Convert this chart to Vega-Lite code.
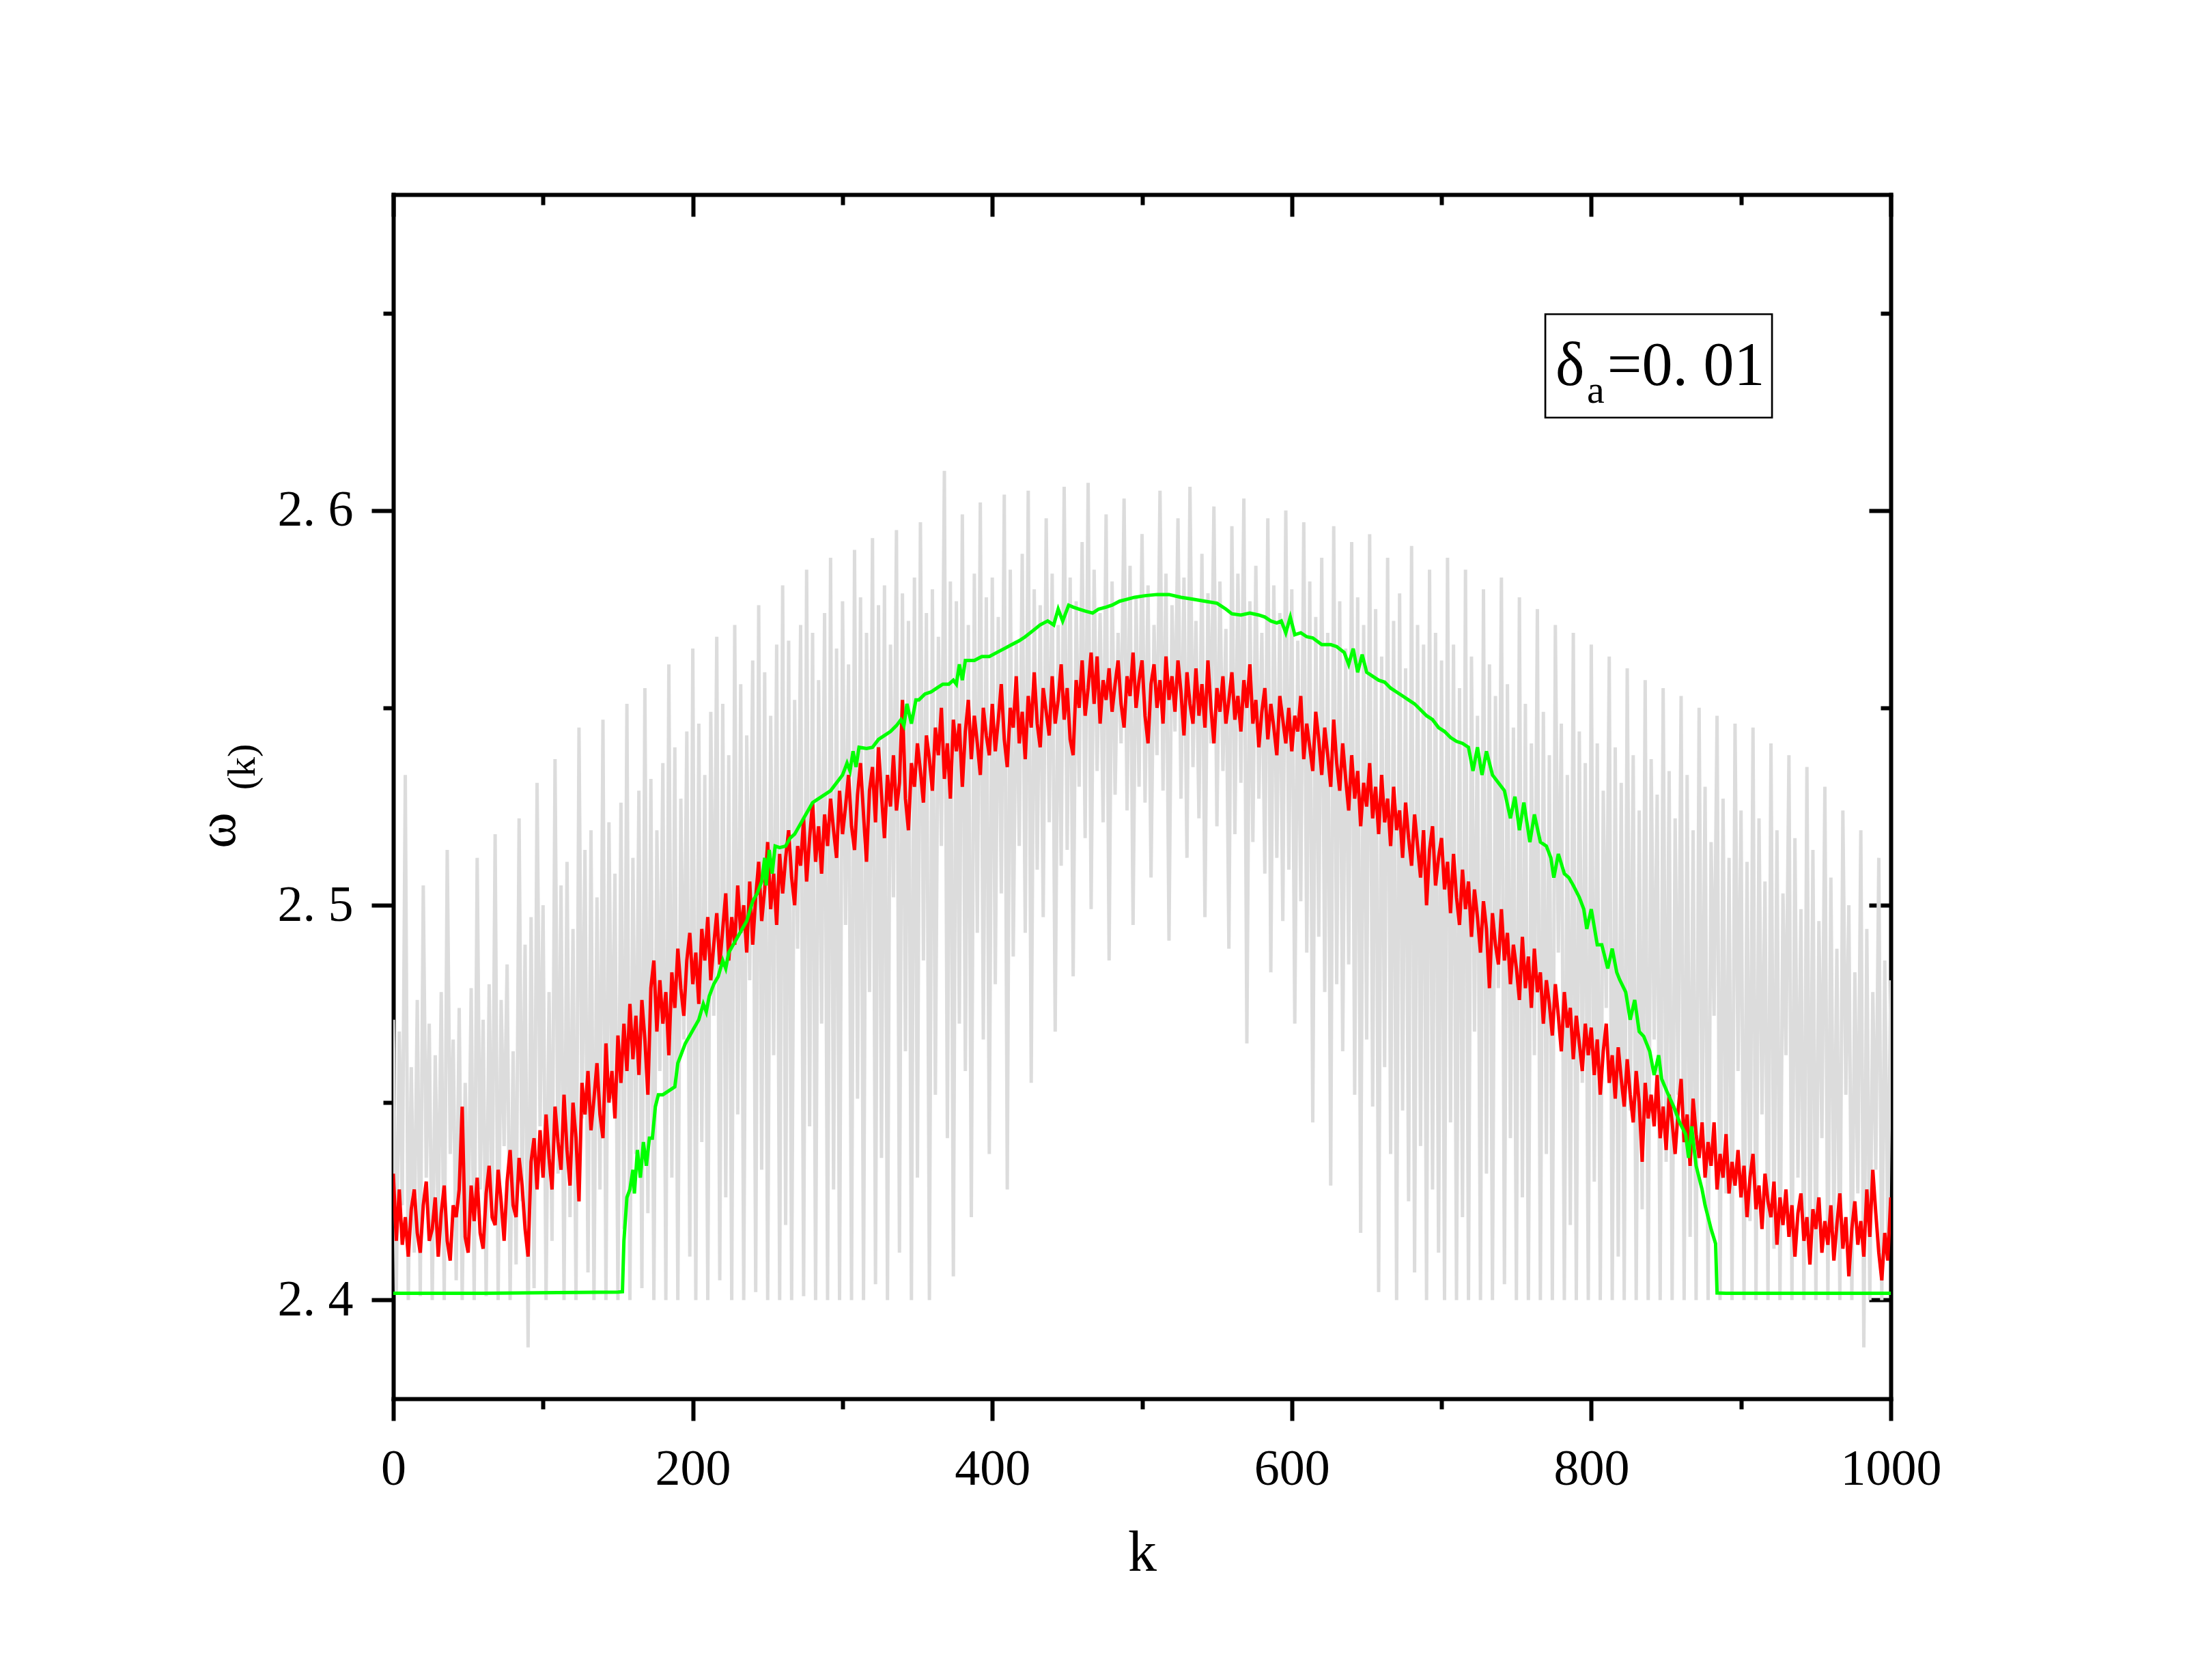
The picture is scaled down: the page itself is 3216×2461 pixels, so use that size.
{
"$schema":"https://vega.github.io/schema/vega-lite/v6.json",
"width":2193,"height":1764,
"autosize":{"type":"none"},
"padding":{"left":576,"top":285,"right":447,"bottom":412},
"background":"white",
"config":{"view":{"stroke":null},"axis":{"grid":false,"domainColor":"black","tickColor":"black","labelColor":"black","titleColor":"black","domainWidth":6,"tickWidth":6,"domainCap":"square","labelFont":"Liberation Serif","titleFont":"Liberation Serif","titleFontWeight":"normal","labelFlush":false,"labelOverlap":false,"labelBound":false,"zindex":1}},
"datasets":{
"main":[
{"k":0,"w":2.471,"r":2.432},{"k":2,"w":2.402,"r":2.415},{"k":4,"w":2.468,"r":2.428},{"k":6,"w":2.424,"r":2.414},{"k":8,"w":2.533,"r":2.421},{"k":10,"w":2.400,"r":2.411},{"k":12,"w":2.459,"r":2.423},{"k":14,"w":2.412,"r":2.428},{"k":16,"w":2.476,"r":2.417},{"k":18,"w":2.401,"r":2.412},
{"k":20,"w":2.505,"r":2.424},{"k":22,"w":2.431,"r":2.430},{"k":24,"w":2.470,"r":2.415},{"k":26,"w":2.400,"r":2.418},{"k":28,"w":2.462,"r":2.426},{"k":30,"w":2.418,"r":2.411},{"k":32,"w":2.478,"r":2.422},{"k":34,"w":2.400,"r":2.429},{"k":36,"w":2.514,"r":2.415},{"k":38,"w":2.437,"r":2.410},
{"k":40,"w":2.466,"r":2.424},{"k":42,"w":2.405,"r":2.421},{"k":44,"w":2.474,"r":2.428},{"k":46,"w":2.400,"r":2.449},{"k":48,"w":2.455,"r":2.416},{"k":50,"w":2.416,"r":2.412},{"k":52,"w":2.479,"r":2.429},{"k":54,"w":2.400,"r":2.420},{"k":56,"w":2.512,"r":2.431},{"k":58,"w":2.428,"r":2.417},
{"k":60,"w":2.471,"r":2.413},{"k":62,"w":2.401,"r":2.427},{"k":64,"w":2.480,"r":2.434},{"k":66,"w":2.420,"r":2.421},{"k":68,"w":2.518,"r":2.419},{"k":70,"w":2.400,"r":2.433},{"k":72,"w":2.476,"r":2.425},{"k":74,"w":2.439,"r":2.415},{"k":76,"w":2.485,"r":2.430},{"k":78,"w":2.400,"r":2.438},
{"k":80,"w":2.463,"r":2.424},{"k":82,"w":2.409,"r":2.421},{"k":84,"w":2.522,"r":2.436},{"k":86,"w":2.425,"r":2.429},{"k":88,"w":2.490,"r":2.418},{"k":90,"w":2.388,"r":2.411},{"k":92,"w":2.497,"r":2.435},{"k":94,"w":2.403,"r":2.441},{"k":96,"w":2.531,"r":2.428},{"k":98,"w":2.444,"r":2.443},
{"k":100,"w":2.500,"r":2.431},{"k":102,"w":2.400,"r":2.447},{"k":104,"w":2.478,"r":2.436},{"k":106,"w":2.415,"r":2.428},{"k":108,"w":2.537,"r":2.449},{"k":110,"w":2.432,"r":2.440},{"k":112,"w":2.505,"r":2.433},{"k":114,"w":2.400,"r":2.452},{"k":116,"w":2.511,"r":2.438},{"k":118,"w":2.421,"r":2.429},
{"k":120,"w":2.494,"r":2.450},{"k":122,"w":2.400,"r":2.441},{"k":124,"w":2.545,"r":2.425},{"k":126,"w":2.446,"r":2.455},{"k":128,"w":2.514,"r":2.447},{"k":130,"w":2.407,"r":2.458},{"k":132,"w":2.519,"r":2.443},{"k":134,"w":2.400,"r":2.451},{"k":136,"w":2.502,"r":2.460},{"k":138,"w":2.428,"r":2.447},
{"k":140,"w":2.547,"r":2.441},{"k":142,"w":2.400,"r":2.465},{"k":144,"w":2.521,"r":2.450},{"k":146,"w":2.451,"r":2.458},{"k":148,"w":2.508,"r":2.446},{"k":150,"w":2.400,"r":2.467},{"k":152,"w":2.526,"r":2.455},{"k":154,"w":2.418,"r":2.470},{"k":156,"w":2.551,"r":2.458},{"k":158,"w":2.400,"r":2.475},
{"k":160,"w":2.512,"r":2.461},{"k":162,"w":2.437,"r":2.472},{"k":164,"w":2.529,"r":2.457},{"k":166,"w":2.403,"r":2.476},{"k":168,"w":2.555,"r":2.466},{"k":170,"w":2.422,"r":2.452},{"k":172,"w":2.532,"r":2.479},{"k":174,"w":2.400,"r":2.486},{"k":176,"w":2.519,"r":2.468},{"k":178,"w":2.458,"r":2.481},
{"k":180,"w":2.536,"r":2.470},{"k":182,"w":2.400,"r":2.478},{"k":184,"w":2.561,"r":2.462},{"k":186,"w":2.431,"r":2.483},{"k":188,"w":2.540,"r":2.474},{"k":190,"w":2.400,"r":2.489},{"k":192,"w":2.527,"r":2.479},{"k":194,"w":2.466,"r":2.472},{"k":196,"w":2.544,"r":2.486},{"k":198,"w":2.411,"r":2.493},
{"k":200,"w":2.565,"r":2.480},{"k":202,"w":2.400,"r":2.488},{"k":204,"w":2.546,"r":2.475},{"k":206,"w":2.440,"r":2.494},{"k":208,"w":2.533,"r":2.486},{"k":210,"w":2.400,"r":2.497},{"k":212,"w":2.549,"r":2.481},{"k":214,"w":2.472,"r":2.490},{"k":216,"w":2.568,"r":2.498},{"k":218,"w":2.405,"r":2.485},
{"k":220,"w":2.551,"r":2.494},{"k":222,"w":2.426,"r":2.503},{"k":224,"w":2.538,"r":2.486},{"k":226,"w":2.400,"r":2.497},{"k":228,"w":2.571,"r":2.490},{"k":230,"w":2.447,"r":2.505},{"k":232,"w":2.556,"r":2.493},{"k":234,"w":2.400,"r":2.500},{"k":236,"w":2.543,"r":2.488},{"k":238,"w":2.481,"r":2.506},
{"k":240,"w":2.562,"r":2.490},{"k":242,"w":2.402,"r":2.502},{"k":244,"w":2.576,"r":2.511},{"k":246,"w":2.433,"r":2.496},{"k":248,"w":2.559,"r":2.504},{"k":250,"w":2.400,"r":2.516},{"k":252,"w":2.548,"r":2.499},{"k":254,"w":2.462,"r":2.508},{"k":256,"w":2.566,"r":2.495},{"k":258,"w":2.400,"r":2.513},
{"k":260,"w":2.581,"r":2.503},{"k":262,"w":2.419,"r":2.512},{"k":264,"w":2.567,"r":2.519},{"k":266,"w":2.400,"r":2.507},{"k":268,"w":2.552,"r":2.500},{"k":270,"w":2.489,"r":2.515},{"k":272,"w":2.571,"r":2.510},{"k":274,"w":2.401,"r":2.522},{"k":276,"w":2.585,"r":2.506},{"k":278,"w":2.444,"r":2.517},
{"k":280,"w":2.569,"r":2.526},{"k":282,"w":2.400,"r":2.511},{"k":284,"w":2.557,"r":2.520},{"k":286,"w":2.470,"r":2.508},{"k":288,"w":2.574,"r":2.523},{"k":290,"w":2.400,"r":2.515},{"k":292,"w":2.588,"r":2.527},{"k":294,"w":2.428,"r":2.519},{"k":296,"w":2.565,"r":2.512},{"k":298,"w":2.400,"r":2.529},
{"k":300,"w":2.577,"r":2.518},{"k":302,"w":2.495,"r":2.525},{"k":304,"w":2.561,"r":2.533},{"k":306,"w":2.400,"r":2.520},{"k":308,"w":2.590,"r":2.514},{"k":310,"w":2.451,"r":2.528},{"k":312,"w":2.578,"r":2.536},{"k":314,"w":2.400,"r":2.523},{"k":316,"w":2.569,"r":2.511},{"k":318,"w":2.478,"r":2.529},
{"k":320,"w":2.593,"r":2.535},{"k":322,"w":2.404,"r":2.521},{"k":324,"w":2.576,"r":2.540},{"k":326,"w":2.436,"r":2.528},{"k":328,"w":2.581,"r":2.517},{"k":330,"w":2.400,"r":2.533},{"k":332,"w":2.566,"r":2.525},{"k":334,"w":2.502,"r":2.538},{"k":336,"w":2.595,"r":2.524},{"k":338,"w":2.412,"r":2.531},
{"k":340,"w":2.579,"r":2.552},{"k":342,"w":2.463,"r":2.527},{"k":344,"w":2.572,"r":2.519},{"k":346,"w":2.400,"r":2.536},{"k":348,"w":2.583,"r":2.530},{"k":350,"w":2.431,"r":2.541},{"k":352,"w":2.597,"r":2.534},{"k":354,"w":2.486,"r":2.526},{"k":356,"w":2.574,"r":2.543},{"k":358,"w":2.400,"r":2.537},
{"k":360,"w":2.580,"r":2.529},{"k":362,"w":2.452,"r":2.545},{"k":364,"w":2.568,"r":2.538},{"k":366,"w":2.515,"r":2.550},{"k":368,"w":2.610,"r":2.532},{"k":370,"w":2.441,"r":2.541},{"k":372,"w":2.582,"r":2.527},{"k":374,"w":2.406,"r":2.547},{"k":376,"w":2.577,"r":2.539},{"k":378,"w":2.470,"r":2.546},
{"k":380,"w":2.599,"r":2.530},{"k":382,"w":2.458,"r":2.544},{"k":384,"w":2.571,"r":2.552},{"k":386,"w":2.421,"r":2.537},{"k":388,"w":2.584,"r":2.548},{"k":390,"w":2.493,"r":2.541},{"k":392,"w":2.602,"r":2.533},{"k":394,"w":2.466,"r":2.550},{"k":396,"w":2.578,"r":2.543},{"k":398,"w":2.437,"r":2.538},
{"k":400,"w":2.583,"r":2.551},{"k":402,"w":2.480,"r":2.539},{"k":404,"w":2.573,"r":2.547},{"k":406,"w":2.503,"r":2.556},{"k":408,"w":2.604,"r":2.542},{"k":410,"w":2.428,"r":2.535},{"k":412,"w":2.585,"r":2.550},{"k":414,"w":2.487,"r":2.545},{"k":416,"w":2.567,"r":2.558},{"k":418,"w":2.515,"r":2.541},
{"k":420,"w":2.589,"r":2.549},{"k":422,"w":2.493,"r":2.537},{"k":424,"w":2.605,"r":2.553},{"k":426,"w":2.455,"r":2.545},{"k":428,"w":2.580,"r":2.559},{"k":430,"w":2.509,"r":2.546},{"k":432,"w":2.576,"r":2.540},{"k":434,"w":2.497,"r":2.555},{"k":436,"w":2.598,"r":2.549},{"k":438,"w":2.521,"r":2.543},
{"k":440,"w":2.584,"r":2.558},{"k":442,"w":2.468,"r":2.546},{"k":444,"w":2.571,"r":2.552},{"k":446,"w":2.510,"r":2.561},{"k":448,"w":2.606,"r":2.547},{"k":450,"w":2.514,"r":2.555},{"k":452,"w":2.583,"r":2.542},{"k":454,"w":2.482,"r":2.538},{"k":456,"w":2.577,"r":2.557},{"k":458,"w":2.530,"r":2.550},
{"k":460,"w":2.592,"r":2.562},{"k":462,"w":2.517,"r":2.548},{"k":464,"w":2.607,"r":2.555},{"k":466,"w":2.499,"r":2.564},{"k":468,"w":2.585,"r":2.551},{"k":470,"w":2.534,"r":2.563},{"k":472,"w":2.574,"r":2.546},{"k":474,"w":2.521,"r":2.557},{"k":476,"w":2.599,"r":2.552},{"k":478,"w":2.486,"r":2.560},
{"k":480,"w":2.582,"r":2.549},{"k":482,"w":2.528,"r":2.556},{"k":484,"w":2.569,"r":2.562},{"k":486,"w":2.541,"r":2.551},{"k":488,"w":2.603,"r":2.545},{"k":490,"w":2.524,"r":2.558},{"k":492,"w":2.586,"r":2.553},{"k":494,"w":2.495,"r":2.564},{"k":496,"w":2.578,"r":2.550},{"k":498,"w":2.530,"r":2.557},
{"k":500,"w":2.594,"r":2.562},{"k":502,"w":2.526,"r":2.548},{"k":504,"w":2.581,"r":2.541},{"k":506,"w":2.507,"r":2.556},{"k":508,"w":2.571,"r":2.561},{"k":510,"w":2.538,"r":2.550},{"k":512,"w":2.605,"r":2.557},{"k":514,"w":2.529,"r":2.546},{"k":516,"w":2.584,"r":2.563},{"k":518,"w":2.491,"r":2.552},
{"k":520,"w":2.576,"r":2.558},{"k":522,"w":2.544,"r":2.549},{"k":524,"w":2.598,"r":2.562},{"k":526,"w":2.527,"r":2.554},{"k":528,"w":2.583,"r":2.543},{"k":530,"w":2.512,"r":2.559},{"k":532,"w":2.606,"r":2.551},{"k":534,"w":2.535,"r":2.546},{"k":536,"w":2.572,"r":2.560},{"k":538,"w":2.522,"r":2.548},
{"k":540,"w":2.589,"r":2.556},{"k":542,"w":2.497,"r":2.545},{"k":544,"w":2.579,"r":2.562},{"k":546,"w":2.541,"r":2.550},{"k":548,"w":2.601,"r":2.541},{"k":550,"w":2.520,"r":2.555},{"k":552,"w":2.582,"r":2.549},{"k":554,"w":2.534,"r":2.558},{"k":556,"w":2.570,"r":2.546},{"k":558,"w":2.489,"r":2.552},
{"k":560,"w":2.596,"r":2.559},{"k":562,"w":2.518,"r":2.547},{"k":564,"w":2.584,"r":2.553},{"k":566,"w":2.531,"r":2.544},{"k":568,"w":2.603,"r":2.557},{"k":570,"w":2.465,"r":2.550},{"k":572,"w":2.577,"r":2.561},{"k":574,"w":2.516,"r":2.546},{"k":576,"w":2.586,"r":2.552},{"k":578,"w":2.527,"r":2.540},
{"k":580,"w":2.569,"r":2.549},{"k":582,"w":2.508,"r":2.555},{"k":584,"w":2.598,"r":2.542},{"k":586,"w":2.483,"r":2.551},{"k":588,"w":2.581,"r":2.545},{"k":590,"w":2.512,"r":2.538},{"k":592,"w":2.574,"r":2.553},{"k":594,"w":2.496,"r":2.547},{"k":596,"w":2.600,"r":2.541},{"k":598,"w":2.509,"r":2.550},
{"k":600,"w":2.580,"r":2.539},{"k":602,"w":2.470,"r":2.548},{"k":604,"w":2.567,"r":2.544},{"k":606,"w":2.501,"r":2.553},{"k":608,"w":2.597,"r":2.537},{"k":610,"w":2.488,"r":2.546},{"k":612,"w":2.582,"r":2.540},{"k":614,"w":2.445,"r":2.534},{"k":616,"w":2.573,"r":2.549},{"k":618,"w":2.492,"r":2.542},
{"k":620,"w":2.588,"r":2.533},{"k":622,"w":2.478,"r":2.545},{"k":624,"w":2.569,"r":2.538},{"k":626,"w":2.429,"r":2.530},{"k":628,"w":2.596,"r":2.547},{"k":630,"w":2.480,"r":2.536},{"k":632,"w":2.577,"r":2.529},{"k":634,"w":2.463,"r":2.541},{"k":636,"w":2.565,"r":2.532},{"k":638,"w":2.485,"r":2.524},
{"k":640,"w":2.592,"r":2.538},{"k":642,"w":2.452,"r":2.527},{"k":644,"w":2.578,"r":2.534},{"k":646,"w":2.417,"r":2.520},{"k":648,"w":2.571,"r":2.531},{"k":650,"w":2.466,"r":2.525},{"k":652,"w":2.594,"r":2.536},{"k":654,"w":2.449,"r":2.522},{"k":656,"w":2.575,"r":2.530},{"k":658,"w":2.402,"r":2.518},
{"k":660,"w":2.563,"r":2.533},{"k":662,"w":2.459,"r":2.521},{"k":664,"w":2.588,"r":2.527},{"k":666,"w":2.437,"r":2.515},{"k":668,"w":2.572,"r":2.530},{"k":670,"w":2.400,"r":2.519},{"k":672,"w":2.579,"r":2.524},{"k":674,"w":2.448,"r":2.512},{"k":676,"w":2.560,"r":2.526},{"k":678,"w":2.425,"r":2.517},
{"k":680,"w":2.591,"r":2.510},{"k":682,"w":2.407,"r":2.523},{"k":684,"w":2.571,"r":2.515},{"k":686,"w":2.439,"r":2.507},{"k":688,"w":2.566,"r":2.519},{"k":690,"w":2.400,"r":2.500},{"k":692,"w":2.585,"r":2.514},{"k":694,"w":2.428,"r":2.520},{"k":696,"w":2.569,"r":2.505},{"k":698,"w":2.412,"r":2.512},
{"k":700,"w":2.562,"r":2.517},{"k":702,"w":2.400,"r":2.504},{"k":704,"w":2.588,"r":2.511},{"k":706,"w":2.445,"r":2.498},{"k":708,"w":2.566,"r":2.513},{"k":710,"w":2.400,"r":2.502},{"k":712,"w":2.555,"r":2.495},{"k":714,"w":2.421,"r":2.509},{"k":716,"w":2.585,"r":2.499},{"k":718,"w":2.400,"r":2.506},
{"k":720,"w":2.563,"r":2.492},{"k":722,"w":2.468,"r":2.504},{"k":724,"w":2.548,"r":2.497},{"k":726,"w":2.400,"r":2.488},{"k":728,"w":2.580,"r":2.501},{"k":730,"w":2.432,"r":2.494},{"k":732,"w":2.561,"r":2.479},{"k":734,"w":2.400,"r":2.498},{"k":736,"w":2.553,"r":2.490},{"k":738,"w":2.479,"r":2.485},
{"k":740,"w":2.583,"r":2.499},{"k":742,"w":2.404,"r":2.486},{"k":744,"w":2.556,"r":2.493},{"k":746,"w":2.441,"r":2.480},{"k":748,"w":2.545,"r":2.490},{"k":750,"w":2.400,"r":2.484},{"k":752,"w":2.578,"r":2.476},{"k":754,"w":2.426,"r":2.492},{"k":756,"w":2.551,"r":2.479},{"k":758,"w":2.400,"r":2.487},
{"k":760,"w":2.541,"r":2.474},{"k":762,"w":2.462,"r":2.489},{"k":764,"w":2.575,"r":2.478},{"k":766,"w":2.400,"r":2.483},{"k":768,"w":2.549,"r":2.470},{"k":770,"w":2.437,"r":2.481},{"k":772,"w":2.538,"r":2.475},{"k":774,"w":2.400,"r":2.467},{"k":776,"w":2.571,"r":2.480},{"k":778,"w":2.488,"r":2.472},
{"k":780,"w":2.546,"r":2.463},{"k":782,"w":2.400,"r":2.478},{"k":784,"w":2.533,"r":2.469},{"k":786,"w":2.419,"r":2.474},{"k":788,"w":2.569,"r":2.461},{"k":790,"w":2.400,"r":2.472},{"k":792,"w":2.544,"r":2.465},{"k":794,"w":2.455,"r":2.458},{"k":796,"w":2.536,"r":2.470},{"k":798,"w":2.400,"r":2.462},
{"k":800,"w":2.566,"r":2.469},{"k":802,"w":2.430,"r":2.457},{"k":804,"w":2.541,"r":2.466},{"k":806,"w":2.400,"r":2.452},{"k":808,"w":2.529,"r":2.463},{"k":810,"w":2.474,"r":2.470},{"k":812,"w":2.563,"r":2.455},{"k":814,"w":2.400,"r":2.462},{"k":816,"w":2.540,"r":2.451},{"k":818,"w":2.411,"r":2.464},
{"k":820,"w":2.531,"r":2.456},{"k":822,"w":2.400,"r":2.449},{"k":824,"w":2.560,"r":2.461},{"k":826,"w":2.448,"r":2.452},{"k":828,"w":2.538,"r":2.445},{"k":830,"w":2.400,"r":2.458},{"k":832,"w":2.524,"r":2.450},{"k":834,"w":2.423,"r":2.435},{"k":836,"w":2.557,"r":2.455},{"k":838,"w":2.400,"r":2.446},
{"k":840,"w":2.537,"r":2.452},{"k":842,"w":2.466,"r":2.444},{"k":844,"w":2.528,"r":2.457},{"k":846,"w":2.400,"r":2.441},{"k":848,"w":2.555,"r":2.449},{"k":850,"w":2.435,"r":2.438},{"k":852,"w":2.534,"r":2.452},{"k":854,"w":2.400,"r":2.445},{"k":856,"w":2.522,"r":2.437},{"k":858,"w":2.452,"r":2.448},
{"k":860,"w":2.553,"r":2.456},{"k":862,"w":2.400,"r":2.440},{"k":864,"w":2.533,"r":2.447},{"k":866,"w":2.416,"r":2.434},{"k":868,"w":2.519,"r":2.451},{"k":870,"w":2.400,"r":2.442},{"k":872,"w":2.550,"r":2.436},{"k":874,"w":2.441,"r":2.445},{"k":876,"w":2.530,"r":2.431},{"k":878,"w":2.400,"r":2.440},
{"k":880,"w":2.516,"r":2.434},{"k":882,"w":2.472,"r":2.445},{"k":884,"w":2.548,"r":2.428},{"k":886,"w":2.400,"r":2.437},{"k":888,"w":2.527,"r":2.431},{"k":890,"w":2.427,"r":2.442},{"k":892,"w":2.512,"r":2.427},{"k":894,"w":2.400,"r":2.435},{"k":896,"w":2.546,"r":2.429},{"k":898,"w":2.458,"r":2.438},
{"k":900,"w":2.524,"r":2.426},{"k":902,"w":2.400,"r":2.434},{"k":904,"w":2.511,"r":2.421},{"k":906,"w":2.420,"r":2.431},{"k":908,"w":2.545,"r":2.437},{"k":910,"w":2.400,"r":2.423},{"k":912,"w":2.522,"r":2.429},{"k":914,"w":2.447,"r":2.418},{"k":916,"w":2.506,"r":2.432},{"k":918,"w":2.400,"r":2.425},
{"k":920,"w":2.541,"r":2.421},{"k":922,"w":2.413,"r":2.430},{"k":924,"w":2.519,"r":2.414},{"k":926,"w":2.400,"r":2.426},{"k":928,"w":2.503,"r":2.419},{"k":930,"w":2.462,"r":2.428},{"k":932,"w":2.538,"r":2.416},{"k":934,"w":2.400,"r":2.424},{"k":936,"w":2.517,"r":2.411},{"k":938,"w":2.431,"r":2.422},
{"k":940,"w":2.499,"r":2.427},{"k":942,"w":2.400,"r":2.415},{"k":944,"w":2.535,"r":2.421},{"k":946,"w":2.409,"r":2.409},{"k":948,"w":2.514,"r":2.423},{"k":950,"w":2.400,"r":2.418},{"k":952,"w":2.496,"r":2.426},{"k":954,"w":2.441,"r":2.412},{"k":956,"w":2.530,"r":2.420},{"k":958,"w":2.400,"r":2.414},
{"k":960,"w":2.507,"r":2.424},{"k":962,"w":2.418,"r":2.410},{"k":964,"w":2.489,"r":2.419},{"k":966,"w":2.400,"r":2.427},{"k":968,"w":2.524,"r":2.413},{"k":970,"w":2.452,"r":2.421},{"k":972,"w":2.500,"r":2.406},{"k":974,"w":2.400,"r":2.418},{"k":976,"w":2.483,"r":2.425},{"k":978,"w":2.427,"r":2.414},
{"k":980,"w":2.519,"r":2.420},{"k":982,"w":2.388,"r":2.411},{"k":984,"w":2.494,"r":2.428},{"k":986,"w":2.400,"r":2.416},{"k":988,"w":2.478,"r":2.433},{"k":990,"w":2.433,"r":2.422},{"k":992,"w":2.512,"r":2.412},{"k":994,"w":2.400,"r":2.405},{"k":996,"w":2.486,"r":2.417},{"k":998,"w":2.415,"r":2.410},
{"k":1000,"w":2.481,"r":2.426}
],
"green":[
{"k":0,"g":2.4017},{"k":60,"g":2.4017},{"k":110,"g":2.4019},{"k":150,"g":2.402},{"k":153,"g":2.4021},{"k":154,"g":2.415},{"k":156,"g":2.426},{"k":158,"g":2.428},{"k":160,"g":2.433},{"k":161,"g":2.427},{"k":163,"g":2.438},{"k":165,"g":2.431},{"k":167,"g":2.44},{"k":169,"g":2.434},{"k":171,"g":2.441},{"k":173,"g":2.441},{"k":175,"g":2.449},{"k":177,"g":2.452},{"k":180,"g":2.452},{"k":184,"g":2.453},{"k":188,"g":2.454},{"k":190,"g":2.46},{"k":192,"g":2.462},{"k":195,"g":2.465},{"k":198,"g":2.467},{"k":201,"g":2.469},{"k":204,"g":2.471},{"k":207,"g":2.475},{"k":209,"g":2.473},{"k":211,"g":2.477},{"k":214,"g":2.48},{"k":217,"g":2.482},{"k":220,"g":2.486},{"k":222,"g":2.484},{"k":224,"g":2.488},{"k":227,"g":2.49},{"k":230,"g":2.492},{"k":233,"g":2.494},{"k":236,"g":2.496},{"k":240,"g":2.501},{"k":243,"g":2.503},{"k":246,"g":2.506},{"k":248,"g":2.512},{"k":249,"g":2.505},{"k":251,"g":2.514},{"k":253,"g":2.508},{"k":255,"g":2.515},{"k":258,"g":2.5146},{"k":262,"g":2.515},{"k":265,"g":2.517},{"k":268,"g":2.518},{"k":271,"g":2.52},{"k":274,"g":2.522},{"k":277,"g":2.524},{"k":280,"g":2.526},{"k":284,"g":2.527},{"k":288,"g":2.528},{"k":292,"g":2.529},{"k":296,"g":2.531},{"k":300,"g":2.533},{"k":303,"g":2.536},{"k":305,"g":2.534},{"k":307,"g":2.539},{"k":309,"g":2.535},{"k":311,"g":2.54},{"k":316,"g":2.5397},{"k":320,"g":2.54},{"k":324,"g":2.542},{"k":328,"g":2.543},{"k":332,"g":2.544},{"k":336,"g":2.5455},{"k":339,"g":2.547},{"k":341,"g":2.5455},{"k":343,"g":2.551},{"k":346,"g":2.546},{"k":349,"g":2.552},{"k":351,"g":2.552},{"k":355,"g":2.5535},{"k":359,"g":2.554},{"k":363,"g":2.555},{"k":367,"g":2.556},{"k":371,"g":2.556},{"k":374,"g":2.557},{"k":376,"g":2.556},{"k":378,"g":2.561},{"k":380,"g":2.557},{"k":382,"g":2.562},{"k":384,"g":2.562},{"k":388,"g":2.562},{"k":393,"g":2.563},{"k":398,"g":2.563},{"k":403,"g":2.564},{"k":408,"g":2.565},{"k":413,"g":2.566},{"k":418,"g":2.567},{"k":422,"g":2.568},{"k":427,"g":2.5695},{"k":432,"g":2.571},{"k":437,"g":2.572},{"k":441,"g":2.571},{"k":444,"g":2.575},{"k":447,"g":2.572},{"k":451,"g":2.576},{"k":454,"g":2.5755},{"k":458,"g":2.575},{"k":462,"g":2.5745},{"k":467,"g":2.574},{"k":471,"g":2.575},{"k":476,"g":2.5755},{"k":480,"g":2.576},{"k":485,"g":2.577},{"k":490,"g":2.5775},{"k":495,"g":2.578},{"k":502,"g":2.5784},{"k":510,"g":2.5787},{"k":518,"g":2.5787},{"k":526,"g":2.578},{"k":534,"g":2.5775},{"k":542,"g":2.577},{"k":550,"g":2.5765},{"k":556,"g":2.575},{"k":560,"g":2.5738},{"k":566,"g":2.5735},{"k":572,"g":2.574},{"k":578,"g":2.5735},{"k":582,"g":2.573},{"k":586,"g":2.572},{"k":590,"g":2.5715},{"k":593,"g":2.572},{"k":596,"g":2.569},{"k":599,"g":2.573},{"k":602,"g":2.5685},{"k":606,"g":2.569},{"k":610,"g":2.568},{"k":614,"g":2.5677},{"k":620,"g":2.566},{"k":626,"g":2.566},{"k":630,"g":2.5655},{"k":635,"g":2.564},{"k":638,"g":2.561},{"k":641,"g":2.565},{"k":644,"g":2.559},{"k":647,"g":2.5635},{"k":650,"g":2.559},{"k":654,"g":2.558},{"k":658,"g":2.557},{"k":662,"g":2.5565},{"k":666,"g":2.555},{"k":670,"g":2.554},{"k":674,"g":2.553},{"k":678,"g":2.552},{"k":682,"g":2.551},{"k":686,"g":2.5495},{"k":690,"g":2.548},{"k":694,"g":2.547},{"k":698,"g":2.545},{"k":702,"g":2.544},{"k":706,"g":2.5425},{"k":710,"g":2.5415},{"k":714,"g":2.541},{"k":718,"g":2.54},{"k":721,"g":2.534},{"k":724,"g":2.54},{"k":727,"g":2.533},{"k":730,"g":2.539},{"k":734,"g":2.533},{"k":738,"g":2.531},{"k":742,"g":2.529},{"k":746,"g":2.522},{"k":749,"g":2.5275},{"k":752,"g":2.519},{"k":755,"g":2.526},{"k":759,"g":2.516},{"k":762,"g":2.523},{"k":766,"g":2.516},{"k":770,"g":2.515},{"k":773,"g":2.512},{"k":775,"g":2.507},{"k":778,"g":2.513},{"k":782,"g":2.508},{"k":785,"g":2.507},{"k":788,"g":2.505},{"k":792,"g":2.502},{"k":795,"g":2.499},{"k":797,"g":2.494},{"k":800,"g":2.499},{"k":804,"g":2.49},{"k":807,"g":2.49},{"k":811,"g":2.484},{"k":814,"g":2.489},{"k":817,"g":2.483},{"k":819,"g":2.4811},{"k":823,"g":2.478},{"k":826,"g":2.471},{"k":829,"g":2.476},{"k":832,"g":2.468},{"k":835,"g":2.4668},{"k":839,"g":2.463},{"k":842,"g":2.457},{"k":845,"g":2.462},{"k":847,"g":2.456},{"k":851,"g":2.4524},{"k":855,"g":2.449},{"k":859,"g":2.445},{"k":863,"g":2.442},{"k":865,"g":2.436},{"k":867,"g":2.444},{"k":870,"g":2.434},{"k":872,"g":2.431},{"k":874,"g":2.428},{"k":876,"g":2.424},{"k":878,"g":2.421},{"k":880,"g":2.418},{"k":883,"g":2.4143},{"k":884,"g":2.4018},{"k":890,"g":2.4017},{"k":1000,"g":2.4017}
]
},
"layer":[
{"data":{"name":"main"},
 "mark":{"type":"line","stroke":"#dcdcdc","strokeWidth":5,"clip":true},
 "encoding":{
  "x":{"field":"k","type":"quantitative","scale":{"domain":[0,1000],"nice":false,"zero":false},
   "axis":{"orient":"bottom","values":[0,100,200,300,400,500,600,700,800,900,1000],
    "tickSize":{"condition":{"test":"datum.value % 200 === 0","value":32},"value":15},
    "labelExpr":"datum.value % 200 === 0 ? format(datum.value,'d') : ''",
    "labelFontSize":74,"labelPadding":35,
    "title":"k","titleFontSize":84,"titleX":1096.5,"titleY":251,"titleBaseline":"alphabetic","titleAlign":"center"}},
  "y":{"field":"w","type":"quantitative","scale":{"domain":[2.375,2.68],"nice":false,"zero":false},
   "axis":{"orient":"left","values":[2.4,2.45,2.5,2.55,2.6,2.65],
    "tickSize":{"condition":{"test":"round(datum.value*100) % 10 === 0","value":32},"value":15},
    "labelExpr":"round(datum.value*100) % 10 === 0 ? replace(format(datum.value,'.1f'),'.','. ') : ''",
    "labelFontSize":74,"labelPadding":27,
    "title":"ω","titleFontSize":80,"titleX":-233,"titleY":931,"titleAngle":270,"titleBaseline":"alphabetic","titleAlign":"center"}}
 }},
{"data":{"name":"main"},
 "mark":{"type":"line","stroke":"#ff0000","strokeWidth":5,"clip":true},
 "encoding":{
  "x":{"field":"k","type":"quantitative",
   "axis":{"orient":"top","values":[0,100,200,300,400,500,600,700,800,900,1000],
    "tickSize":{"condition":{"test":"datum.value % 200 === 0","value":-32},"value":-15},
    "labels":false,"title":null}},
  "y":{"field":"r","type":"quantitative",
   "axis":{"orient":"right","values":[2.4,2.45,2.5,2.55,2.6,2.65],
    "tickSize":{"condition":{"test":"round(datum.value*100) % 10 === 0","value":-32},"value":-15},
    "labels":false,"title":null}}
 }},
{"data":{"name":"green"},
 "mark":{"type":"line","stroke":"#00ff00","strokeWidth":5,"clip":true},
 "encoding":{
  "x":{"field":"k","type":"quantitative","axis":null},
  "y":{"field":"g","type":"quantitative",
   "axis":{"orient":"left","domain":false,"ticks":false,"labels":false,
    "title":"(k)","titleFontSize":58,"titleX":-204,"titleY":838,"titleAngle":270,"titleBaseline":"alphabetic","titleAlign":"center"}}
 }},
{"data":{"values":[{"box":"legend"}]},
 "mark":{"type":"rect","fill":"white","stroke":"black","strokeWidth":2.7},
 "encoding":{
  "x":{"datum":769.3,"type":"quantitative","axis":null},"x2":{"datum":920.7},
  "y":{"datum":2.6497,"type":"quantitative","axis":null},"y2":{"datum":2.6235}
 }},
{"data":{"values":[{"t":"δ"}]},
 "mark":{"type":"text","font":"Liberation Serif","fontSize":90,"align":"left","baseline":"alphabetic","color":"black"},
 "encoding":{"text":{"field":"t"},"x":{"datum":776.1,"type":"quantitative","axis":null},"y":{"datum":2.6318,"type":"quantitative","axis":null}}},
{"data":{"values":[{"t":"a"}]},
 "mark":{"type":"text","font":"Liberation Serif","fontSize":58,"align":"left","baseline":"alphabetic","color":"black"},
 "encoding":{"text":{"field":"t"},"x":{"datum":797.1,"type":"quantitative","axis":null},"y":{"datum":2.6272,"type":"quantitative","axis":null}}},
{"data":{"values":[{"t":"=0. 01"}]},
 "mark":{"type":"text","font":"Liberation Serif","fontSize":90,"align":"left","baseline":"alphabetic","color":"black"},
 "encoding":{"text":{"field":"t"},"x":{"datum":810.7,"type":"quantitative","axis":null},"y":{"datum":2.6318,"type":"quantitative","axis":null}}}
],
"resolve":{"axis":{"x":"independent","y":"independent"}}
}
